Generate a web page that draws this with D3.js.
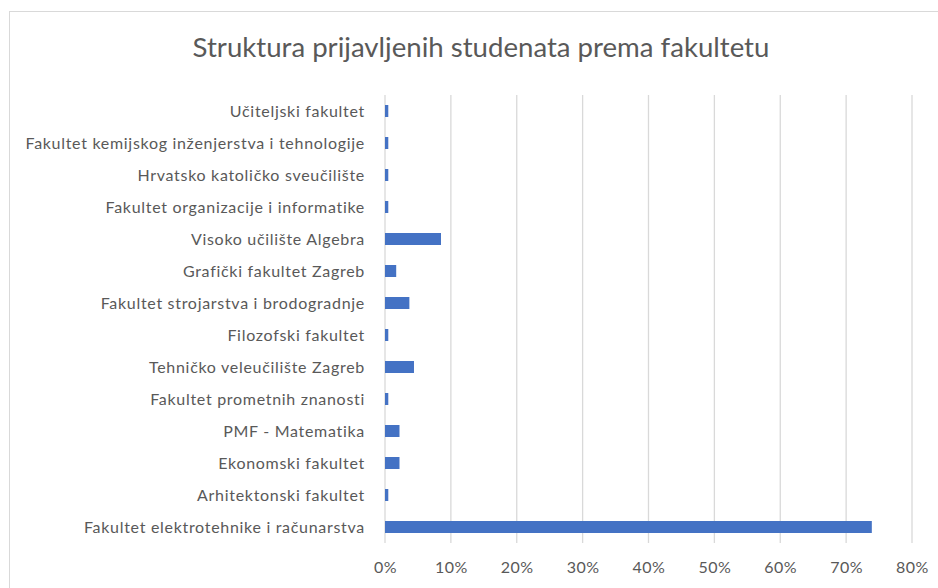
<!DOCTYPE html>
<html>
<head>
<meta charset="utf-8">
<script src="https://cdn.jsdelivr.net/npm/d3@7"></script>
<style>
  body { margin: 0; background: #fff; }
  svg text { font-family: Lato, "Open Sans", sans-serif; fill: #595959; }
</style>
</head>
<body>
<div id="chart"></div>
<script>
// faculties, top to bottom as drawn
const faculties = [
  "Učiteljski fakultet",
  "Fakultet kemijskog inženjerstva i tehnologije",
  "Hrvatsko katoličko sveučilište",
  "Fakultet organizacije i informatike",
  "Visoko učilište Algebra",
  "Grafički fakultet Zagreb",
  "Fakultet strojarstva i brodogradnje",
  "Filozofski fakultet",
  "Tehničko veleučilište Zagreb",
  "Fakultet prometnih znanosti",
  "PMF - Matematika",
  "Ekonomski fakultet",
  "Arhitektonski fakultet",
  "Fakultet elektrotehnike i računarstva"
];
// share of applied students (fraction)
const shares = [0.005, 0.005, 0.005, 0.005, 0.085, 0.017, 0.037, 0.005, 0.044, 0.005, 0.022, 0.022, 0.005, 0.739];
const xTicks = [0, 0.1, 0.2, 0.3, 0.4, 0.5, 0.6, 0.7, 0.8];

const W = 938, H = 588;
const margin = {top: 95, right: 26, bottom: 45, left: 385};

const svg = d3.select("#chart").append("svg")
  .attr("width", W)
  .attr("height", H);

// chart frame
svg.append("rect")
  .attr("x", 9.5).attr("y", 11.5)
  .attr("width", W).attr("height", H)
  .attr("fill", "none")
  .attr("stroke", "#d9d9d9");

const x = d3.scaleLinear()
  .domain([0, 0.8])
  .range([margin.left, W - margin.right]);

const y = d3.scaleBand()
  .domain(faculties)
  .range([margin.top, H - margin.bottom])
  .paddingInner(0.625)
  .paddingOuter(0.3125);

// gridlines
svg.append("g")
  .selectAll("line")
  .data(xTicks)
  .join("line")
  .attr("x1", d => x(d)).attr("x2", d => x(d))
  .attr("y1", margin.top).attr("y2", H - margin.bottom)
  .attr("stroke", "#d9d9d9")
  .attr("stroke-width", 1.3);

// bars
svg.append("g")
  .selectAll("rect")
  .data(faculties)
  .join("rect")
  .attr("x", x(0))
  .attr("y", (d) => y(d))
  .attr("width", (d, i) => x(shares[i]) - x(0))
  .attr("height", y.bandwidth())
  .attr("fill", "#4472c4");

// category labels
svg.append("g")
  .selectAll("text")
  .data(faculties)
  .join("text")
  .attr("x", margin.left - 20)
  .attr("y", d => y(d) + y.bandwidth() / 2)
  .attr("dy", "0.35em")
  .attr("text-anchor", "end")
  .attr("font-size", 16)
  .attr("letter-spacing", 0.7)
  .text(d => d);

// x axis tick labels
const xAxis = d3.axisBottom(x)
  .tickValues(xTicks)
  .tickFormat(d3.format(".0%"))
  .tickSize(0)
  .tickPadding(0);

const gx = svg.append("g")
  .attr("transform", "translate(0," + (H - margin.bottom + 19) + ")")
  .call(xAxis);
gx.select(".domain").remove();
gx.selectAll("text")
  .attr("font-size", 16)
  .attr("letter-spacing", 0.5)
  .style("font-family", "Lato, 'Open Sans', sans-serif")
  .attr("fill", "#595959");

// title
svg.append("text")
  .attr("x", 481)
  .attr("y", 57)
  .attr("text-anchor", "middle")
  .attr("font-size", 27.6)
  .text("Struktura prijavljenih studenata prema fakultetu");
</script>
</body>
</html>
